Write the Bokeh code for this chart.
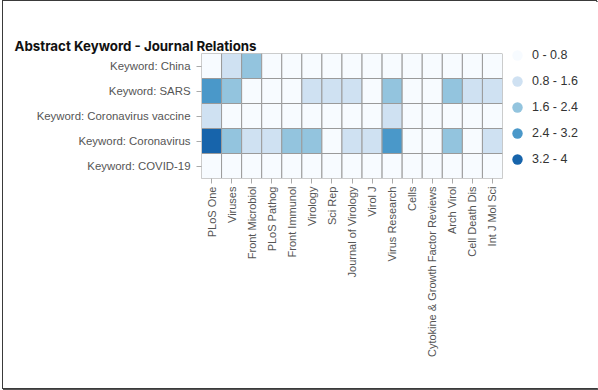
import math
from bokeh.plotting import figure
from bokeh.models import (ColumnDataSource, LinearColorMapper, Legend, LegendItem,
                          FactorRange, Title)
from bokeh.embed import file_html
from bokeh.resources import INLINE

title_text = "Abstract Keyword - Journal Relations"
journals = ["PLoS One", "Viruses", "Front Microbiol", "PLoS Pathog", "Front Immunol",
            "Virology", "Sci Rep", "Journal of Virology", "Virol J", "Virus Research",
            "Cells", "Cytokine & Growth Factor Reviews", "Arch Virol", "Cell Death Dis",
            "Int J Mol Sci"]
keywords = ["Keyword: China", "Keyword: SARS", "Keyword: Coronavirus vaccine",
            "Keyword: Coronavirus", "Keyword: COVID-19"]

china = [0, 1, 2, 0, 0, 0, 0, 0, 0, 0, 0, 0, 0, 0, 0]
sars = [3, 2, 0, 0, 0, 1, 1, 1, 0, 2, 0, 0, 2, 1, 1]
vaccine = [1, 0, 0, 0, 0, 0, 0, 0, 0, 1, 0, 0, 0, 0, 0]
coronavirus = [4, 2, 1, 1, 2, 2, 0, 1, 1, 3, 0, 0, 2, 0, 1]
covid = [0, 0, 0, 0, 0, 0, 0, 0, 0, 0, 0, 0, 0, 0, 0]
rows = [china, sars, vaccine, coronavirus, covid]

palette = ["#f7fbff", "#cfe1f2", "#93c4de", "#4a98c9", "#1764ab"]
legend_labels = ["0 - 0.8", "0.8 - 1.6", "1.6 - 2.4", "2.4 - 3.2", "3.2 - 4"]

xs, ys, vs = [], [], []
for kw, row in zip(keywords, rows):
    for j, v in zip(journals, row):
        xs.append(j)
        ys.append(kw)
        vs.append(v)
src = ColumnDataSource(dict(journal=xs, keyword=ys, value=vs))

mapper = LinearColorMapper(palette=palette, low=0, high=4)

p = figure(x_range=FactorRange(*journals), y_range=FactorRange(*list(reversed(keywords))),
           frame_width=301, frame_height=125, title=None,
           min_border_left=198, min_border_right=94, min_border_top=52, min_border_bottom=210,
           output_backend="svg", toolbar_location=None)
p.styles = {"border": "1px solid #3a3a3a", "box-shadow": "1px 1px 0 #555",
            "margin-left": "2px", "margin-top": "0px",
            "max-width": "595px", "box-sizing": "border-box"}

p.rect(x="journal", y="keyword", width=1, height=1, source=src,
       fill_color={"field": "value", "transform": mapper},
       line_color="#9a9a9a", line_width=1)

# visible title (outer), then a blank spacer between it and the frame
p.add_layout(Title(text=title_text, text_font="Inter", text_font_style="bold",
                   text_font_size="13.3px", text_color="#111111", align="left",
                   offset=-187, standoff=0, vertical_align="bottom"), "above")
p.add_layout(Title(text=" ", text_font_size="1px", standoff=22, text_color="white"), "above")

p.outline_line_color = None
p.grid.grid_line_color = None
p.background_fill_color = "white"

for ax in (p.xaxis, p.yaxis):
    ax.major_label_text_font = "Liberation Sans"
    ax.major_label_text_color = "#555555"
    ax.major_tick_line_color = "#aaaaaa"
    ax.major_tick_out = 5
    ax.major_tick_in = 0
    ax.axis_line_color = "#cccccc"
    ax.minor_tick_line_color = None

p.xaxis.major_label_text_font_size = "11px"
p.yaxis.major_label_text_font_size = "11.4px"
p.yaxis.major_label_standoff = 6
p.xaxis.major_label_standoff = 3
p.xaxis.major_label_orientation = math.pi / 2

items = []
for c, lab in zip(palette, legend_labels):
    r = p.scatter(x=[journals[0]], y=[keywords[0]], marker="circle", size=0,
                  fill_color=c, line_color=None)
    items.append(LegendItem(label=lab, renderers=[r]))

legend = Legend(items=items, location=(2, 6), orientation="vertical",
                glyph_width=26, glyph_height=26, label_height=26, spacing=0,
                padding=0, margin=0, label_standoff=2,
                label_text_font="Liberation Sans", label_text_font_size="12.5px",
                label_text_color="#333333",
                border_line_color=None, background_fill_alpha=0)
p.add_layout(legend, "right")

open("out.html", "w").write(file_html(p, INLINE))
